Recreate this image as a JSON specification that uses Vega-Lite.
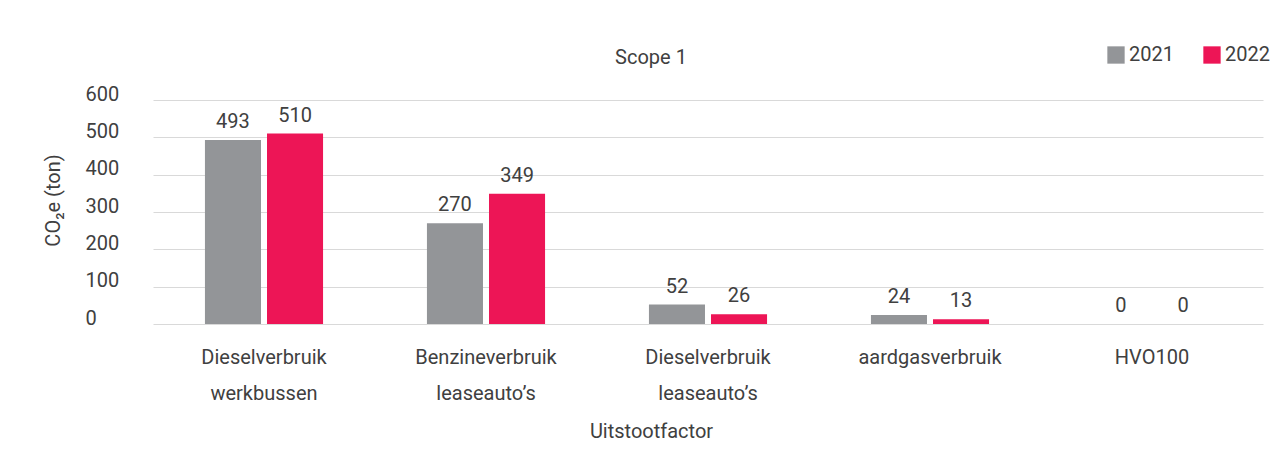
{
  "$schema": "https://vega.github.io/schema/vega-lite/v6.json",
  "autosize": {"type": "none"},
  "width": 1110,
  "height": 224,
  "padding": {"left": 153, "top": 100, "right": 19, "bottom": 137},
  "background": "white",
  "title": {
    "text": "Scope 1",
    "fontSize": 20,
    "fontWeight": "normal",
    "font": "Roboto",
    "color": "#404040",
    "anchor": "middle",
    "frame": "group",
    "dx": -57,
    "offset": 33,
    "dy": 56
  },
  "data": {
    "values": [
      {"cat": "Dieselverbruik|werkbussen", "jaar": "2021", "waarde": 493},
      {"cat": "Dieselverbruik|werkbussen", "jaar": "2022", "waarde": 510},
      {"cat": "Benzineverbruik|leaseauto’s", "jaar": "2021", "waarde": 270},
      {"cat": "Benzineverbruik|leaseauto’s", "jaar": "2022", "waarde": 349},
      {"cat": "Dieselverbruik |leaseauto’s", "jaar": "2021", "waarde": 52},
      {"cat": "Dieselverbruik |leaseauto’s", "jaar": "2022", "waarde": 26},
      {"cat": "aardgasverbruik", "jaar": "2021", "waarde": 24},
      {"cat": "aardgasverbruik", "jaar": "2022", "waarde": 13},
      {"cat": "HVO100", "jaar": "2021", "waarde": 0},
      {"cat": "HVO100", "jaar": "2022", "waarde": 0}
    ]
  },
  "encoding": {
    "x": {
      "field": "cat",
      "type": "nominal",
      "sort": null,
      "scale": {"paddingInner": 0.468, "paddingOuter": 0.234},
      "axis": {
        "title": "Uitstootfactor",
        "labelExpr": "split(datum.label, '|')",
        "labelAngle": 0,
        "labelFontSize": 20,
        "labelLineHeight": 36,
        "labelBaseline": "alphabetic",
        "labelPadding": 39,
        "labelColor": "#404040",
        "labelFont": "Roboto",
        "ticks": false,
        "tickSize": 0,
        "domain": false,
        "titleFontSize": 20,
        "titleFontWeight": "normal",
        "titleFont": "Roboto",
        "titleColor": "#404040",
        "titleX": 498,
        "titleY": 113,
        "titleAlign": "center",
        "titleBaseline": "alphabetic"
      }
    },
    "xOffset": {
      "field": "jaar",
      "type": "nominal",
      "scale": {"paddingInner": 0.097, "paddingOuter": 0}
    },
    "y": {
      "field": "waarde",
      "type": "quantitative",
      "scale": {"domain": [0, 600], "nice": false},
      "axis": {
        "title": "CO₂e (ton)",
        "values": [0, 100, 200, 300, 400, 500, 600],
        "labelAlign": "left",
        "labelBaseline": "alphabetic",
        "labelPadding": 68,
        "labelFontSize": 20,
        "labelColor": "#404040",
        "labelFont": "Roboto",
        "ticks": false,
        "tickSize": 0,
        "domain": false,
        "grid": true,
        "gridColor": "#d9d9d9",
        "gridWidth": 1,
        "titleFontSize": 20,
        "titleFontWeight": "normal",
        "titleFont": "Roboto",
        "titleColor": "#404040",
        "titleAngle": -90,
        "titleX": -94,
        "titleY": 100,
        "titleAlign": "center",
        "titleBaseline": "alphabetic"
      }
    },
    "color": {
      "field": "jaar",
      "type": "nominal",
      "scale": {"domain": ["2021", "2022"], "range": ["#939598", "#ED1556"]},
      "legend": {
        "title": null,
        "orient": "none",
        "direction": "horizontal",
        "legendX": 953,
        "legendY": -55,
        "symbolType": "square",
        "symbolSize": 300,
        "symbolStrokeWidth": 0,
        "symbolOpacity": 1,
        "labelFontSize": 20,
        "labelFont": "Roboto",
        "labelColor": "#404040",
        "labelOffset": 3,
        "columnPadding": 28
      }
    }
  },
  "layer": [
    {"mark": {"type": "bar"}},
    {
      "mark": {"type": "text", "dy": -12, "baseline": "alphabetic", "fontSize": 20, "font": "Roboto", "color": "#404040"},
      "encoding": {
        "text": {"field": "waarde", "type": "quantitative"},
        "color": {"value": "#404040"}
      }
    }
  ],
  "config": {
    "view": {"stroke": null},
    "font": "Roboto"
  }
}
